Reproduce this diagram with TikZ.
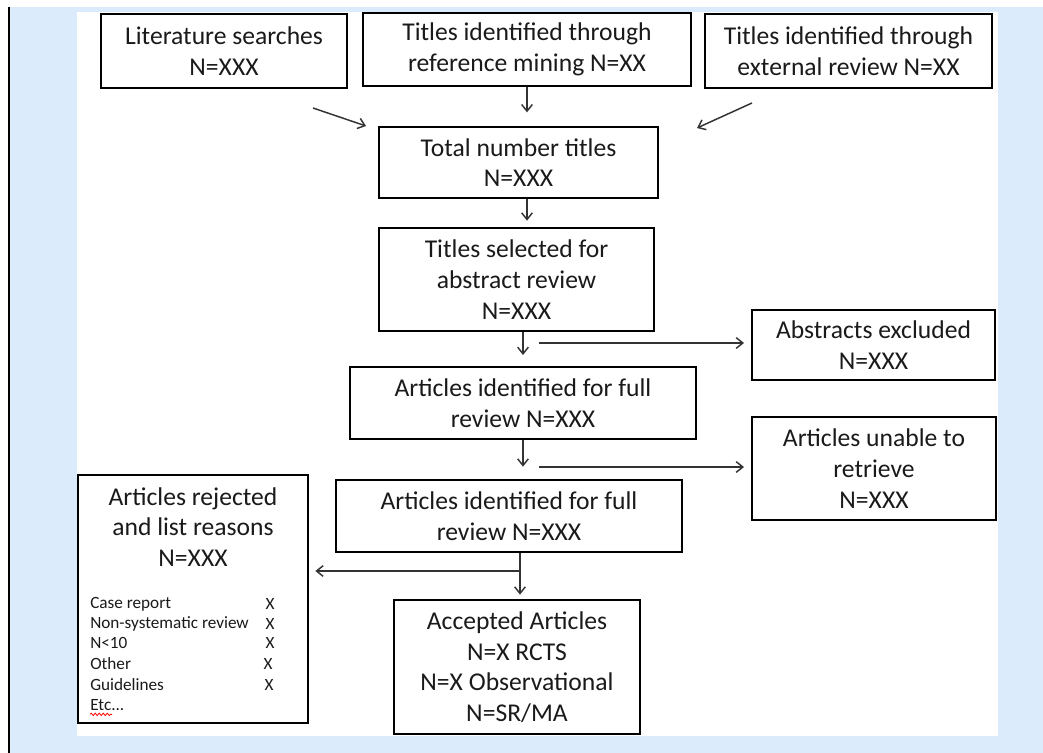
\documentclass[tikz,border=0pt]{standalone}
\usepackage{fontspec}
\setmainfont{Carlito}
\usetikzlibrary{arrows.meta,decorations.pathmorphing}
\definecolor{bgblue}{HTML}{DCEBFB}
\definecolor{linegray}{HTML}{333333}
\definecolor{txt}{HTML}{1A1A1A}
\begin{document}
\begin{tikzpicture}[x=0.75pt,y=-0.75pt,
  bx/.style n args={2}{draw=black, line width=2pt, fill=white, text=txt,
    minimum width=#1*0.75pt, minimum height=#2*0.75pt, inner sep=0pt,
    align=center, font=\fontsize{19.2}{23}\selectfont},
  arr/.style={draw=linegray, line width=1.1pt, -{Straight Barb[length=5pt,width=8pt]}},
  small/.style={font=\fontsize{12.9}{15}\selectfont, inner sep=0pt, text=txt},
  big/.style={font=\fontsize{19.2}{23}\selectfont, inner sep=0pt, align=center, text=txt}
]
\useasboundingbox (0,0) rectangle (1043,753);
% background
\fill[white] (0,0) rectangle (1043,753);
\fill[bgblue] (10,7) rectangle (1043,753);
\draw[black, line width=1.4pt] (9,7) -- (9,753);
\fill[white] (77,12) rectangle (998,736);

% boxes
\node[bx={246}{74}] (lit) at (224,51) {Literature searches\\N=XXX};
\node[bx={328}{73}] (ref) at (527,49.5) {Titles identified through\\reference mining N=XX};
\node[bx={287}{74}] (ext) at (848.5,51) {Titles identified through\\external review N=XX};
\node[bx={279}{71}] (tot) at (518.5,162.5) {Total number titles\\N=XXX};
\node[bx={275}{103}] (sel) at (516.5,279.5) {Titles selected for\\abstract review\\N=XXX};
\node[bx={243}{70}] (abs) at (873.5,345) {Abstracts excluded\\N=XXX};
\node[bx={346}{72}] (art1) at (523,403) {Articles identified for full\\review N=XXX};
\node[bx={244}{103}] (unab) at (874,468.5) {Articles unable to\\retrieve\\N=XXX};
\node[bx={346}{72}] (art2) at (509,516) {Articles identified for full\\review N=XXX};
\node[bx={230}{248}] (rej) at (193,599) {};
\node[bx={246}{134}] (acc) at (517,667) {Accepted Articles\\N=X RCTS\\N=X Observational\\N=SR/MA};

% rejected box contents
\node[big] (rejhead) at (193,527) {Articles rejected\\and list reasons\\N=XXX};
\node[small, anchor=west] (r1) at (90,604) {Case report};
\node[small, anchor=west] (r2) at (90,623.5) {Non-systematic review};
\node[small, anchor=west] (r3) at (90,643) {N<10};
\node[small, anchor=west] (r4) at (90,663.5) {Other};
\node[small, anchor=west] (r5) at (90,684.5) {Guidelines};
\node[small, anchor=west] (r6) at (90,705.5) {Etc...};
\node[small] (x1) at (270,604) {X};
\node[small] (x2) at (270,623.5) {X};
\node[small] (x3) at (270,643) {X};
\node[small] (x4) at (268,663.5) {X};
\node[small] (x5) at (269,684.5) {X};
\draw[red, line width=0.6pt, decorate, decoration={snake, amplitude=0.9pt, segment length=3pt}]
  (r6.south west) ++(0,3) -- ++(22,0);

% connectors
\coordinate (d1s) at (313,108);
\coordinate (d1e) at (366,126);
\draw[arr] (d1s) -- (d1e);
\coordinate (d2s) at (752,103);
\coordinate (d2e) at (697,128);
\draw[arr] (d2s) -- (d2e);
\draw[arr, shorten >=10pt] (ref.south) -- (ref.south |- tot.north);
\draw[arr, shorten >=4.5pt] (tot.south -| 527,0) -- (sel.north -| 527,0);
\draw[arr, shorten >=8pt] (sel.south -| 523,0) -- (art1.north -| 523,0);
\coordinate (h1) at (539,343);
\draw[arr, shorten >=5pt] (h1) -- (h1 -| abs.west);
\draw[arr, shorten >=9pt] (art1.south -| 523,0) -- (art2.north -| 523,0);
\coordinate (h2) at (539,467);
\draw[arr, shorten >=5pt] (h2) -- (h2 -| unab.west);
\draw[arr, shorten >=3pt] (art2.south -| 520,0) -- (acc.north -| 520,0);
\coordinate (h3) at (519,571);
\draw[arr, shorten >=4.5pt] (h3) -- (h3 -| rej.east);
\end{tikzpicture}
\end{document}
